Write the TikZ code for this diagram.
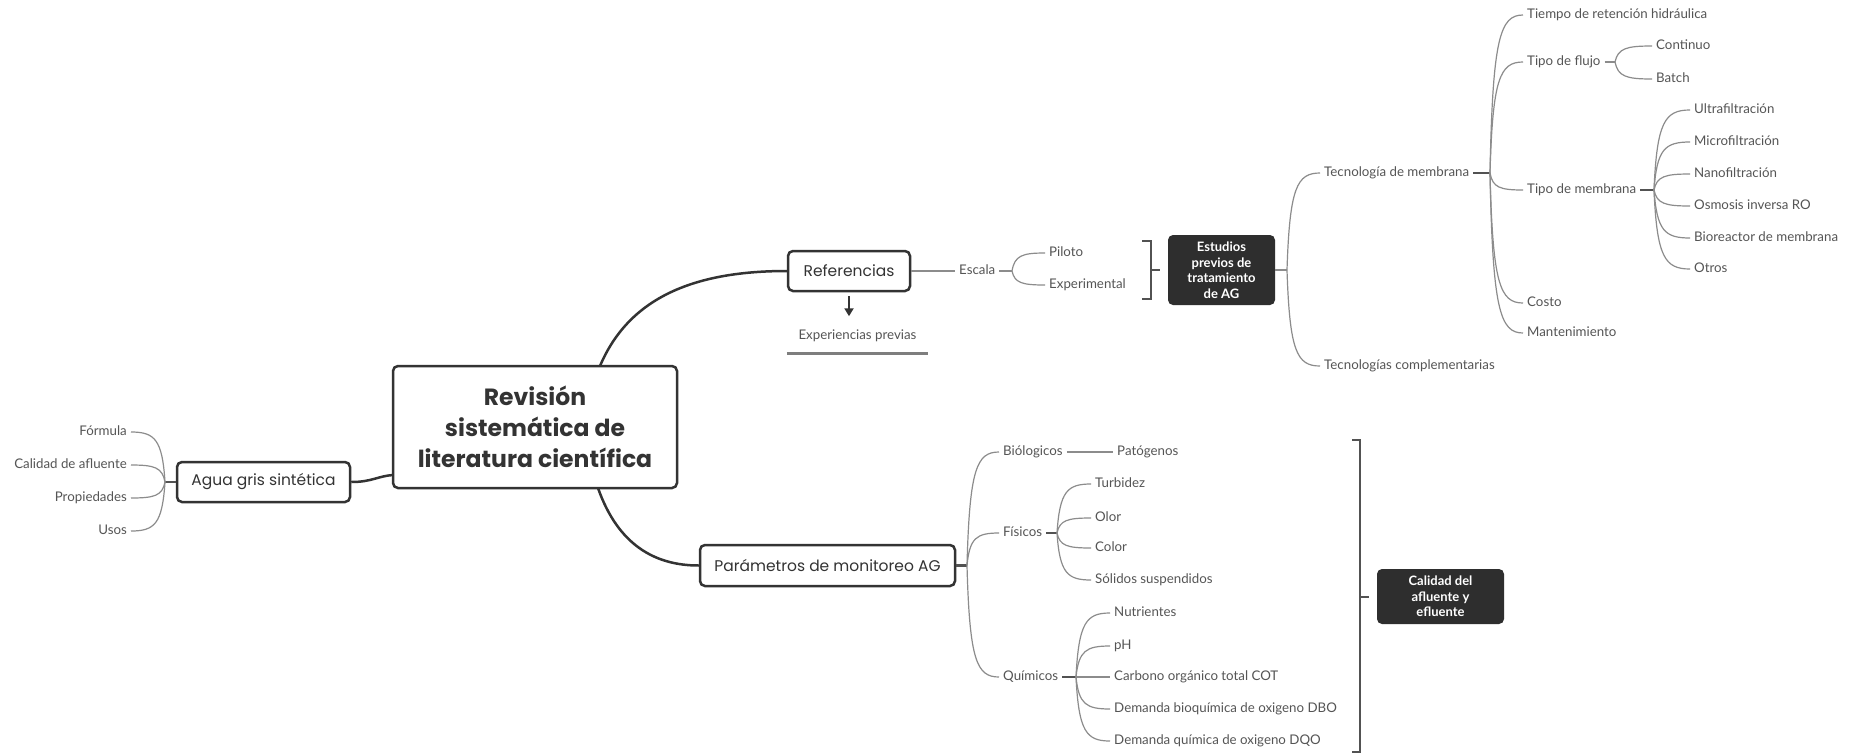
\documentclass[tikz,border=0pt]{standalone}
\usepackage{fontspec}
\setmainfont{Lato}
\newfontfamily\popfont{Poppins}
\usetikzlibrary{calc,arrows.meta}
\definecolor{dk}{HTML}{333333}
\definecolor{ln}{HTML}{8C8C8C}
\definecolor{tx}{HTML}{555555}
\definecolor{boxfill}{HTML}{2E2E2E}
\newcommand{\labfont}{\fontsize{13.3}{16}\selectfont}
\newcommand{\brc}[2]{\draw[thinln] let \p1=(#1), \p2=(#2) in (\p1) .. controls ({\x1+0.08*(\x2-\x1)},{\y1+0.85*(\y2-\y1)}) and ({\x1+0.3*(\x2-\x1)},{\y2}) .. (\p2);}
\begin{document}
\begin{tikzpicture}[x=1pt,y=-1pt,
  lab/.style={anchor=west, inner xsep=4pt, inner ysep=1pt, text=tx, font=\labfont, text height=9.6pt, text depth=2.8pt},
  labr/.style={lab, anchor=east},
  topic/.style={draw=dk, line width=2.5pt, rounded corners=5pt, fill=white, text=dk, inner sep=0pt},
  darkbox/.style={fill=boxfill, rounded corners=5pt, text=white, align=center, inner sep=0pt, font=\bfseries\fontsize{13}{15.5}\selectfont},
  conn/.style={draw=dk, line width=2.5pt},
  thinln/.style={draw=ln, line width=1.2pt},
  stubk/.style={draw=dk!85, line width=2.5pt},
  brk/.style={draw=dk!85, line width=2pt}]
\fill[white] (0,0) rectangle (1856,753);
\useasboundingbox (0,0) rectangle (1856,753);

% main topics
\node[topic, minimum width=284pt, minimum height=122pt, align=center,
  font=\popfont\bfseries\fontsize{23.5}{31}\selectfont] (central) at (535,427)
  {Revisión\\sistemática de\\literatura científica};
\node[topic, minimum width=173pt, minimum height=40pt, font=\popfont\fontsize{15.5}{18}\selectfont] (agua) at (263.5,482) {Agua gris sintética};
\node[topic, minimum width=122pt, minimum height=40pt, font=\popfont\fontsize{15.5}{18}\selectfont] (ref) at (849,271) {Referencias};
\node[topic, minimum width=255pt, minimum height=41pt, font=\popfont\fontsize{15.5}{18}\selectfont] (par) at (827.5,565.5) {Parámetros de monitoreo AG};

\coordinate (cL) at (393,475);
\coordinate (cT) at (600,366);
\coordinate (cB) at (598,488);
\draw[conn] (agua.east) .. controls (372,482) and (378,476) .. (cL);
\draw[conn] (cT) .. controls (628,300) and (690,271) .. (ref.west);
\draw[conn] (cB) .. controls (618,545) and (655,565.5) .. (par.west);

% Agua gris
\coordinate (hA) at (165,482);
\draw[stubk] (agua.west) -- (hA);
\node[labr] (fo) at (131,432) {Fórmula};
\node[labr] (ca) at (131,465) {Calidad de afluente};
\node[labr] (pr) at (131,498) {Propiedades};
\node[labr] (us) at (131,531) {Usos};
\brc{hA}{fo.east}
\brc{hA}{ca.east}
\brc{hA}{pr.east}
\brc{hA}{us.east}

% Referencias
\node[lab, inner ysep=3pt, minimum width=141pt, align=center, anchor=center] (exp) at (857.5,336) {Experiencias previas};
\draw[draw=dk, line width=2pt, -{Triangle[width=9pt,length=8pt]}] ([yshift=-4pt]ref.south) -- ([yshift=-24pt]ref.south);
\draw[draw=ln!90!black, line width=2.5pt] ([yshift=-8pt]exp.south west) -- ([yshift=-8pt]exp.south east);
\node[lab] (esc) at (955,271) {Escala};
\draw[thinln] (ref.east) -- (esc.west);
\coordinate (hEsc) at (1012,271);
\draw[thinln] (esc.east) -- (hEsc);
\node[lab] (pil) at (1045,253) {Piloto};
\node[lab] (expm) at (1045,285) {Experimental};
\brc{hEsc}{pil.west}
\brc{hEsc}{expm.west}

% Estudios
\draw[brk] (1142,241) -- (1151,241) -- (1151,299) -- (1142,299);
\draw[brk] (1151,270) -- (1160,270);
\node[darkbox, minimum width=107pt, minimum height=70pt] (est) at (1221.5,270) {Estudios\\previos de\\tratamiento\\de AG};
\coordinate (hE) at (1287,270);
\draw[thinln] (est.east) -- (hE);
\node[lab] (tm) at (1320,173) {Tecnología de membrana};
\node[lab] (tc) at (1320,366) {Tecnologías complementarias};
\brc{hE}{tm.west}
\brc{hE}{tc.west}

\coordinate (hTM) at (1490,173);
\draw[stubk] (tm.east) -- (hTM);
\node[lab] (ti) at (1523,15) {Tiempo de retención hidráulica};
\node[lab] (tf) at (1523,62) {Tipo de flujo};
\node[lab] (tme) at (1523,190) {Tipo de membrana};
\node[lab] (co) at (1523,303) {Costo};
\node[lab] (ma) at (1523,333) {Mantenimiento};
\brc{hTM}{ti.west}
\brc{hTM}{tf.west}
\brc{hTM}{tme.west}
\brc{hTM}{co.west}
\brc{hTM}{ma.west}

\coordinate (hTF) at (1615,62);
\draw[thinln] (tf.east) -- (hTF);
\node[lab] (cn) at (1652,46) {Continuo};
\node[lab] (ba) at (1652,79) {Batch};
\brc{hTF}{cn.west}
\brc{hTF}{ba.west}

\coordinate (hTMe) at (1654,190);
\draw[stubk] (tme.east) -- (hTMe);
\node[lab] (uf) at (1690,110) {Ultrafiltración};
\node[lab] (mf) at (1690,142) {Microfiltración};
\node[lab] (nf) at (1690,174) {Nanofiltración};
\node[lab] (ro) at (1690,206) {Osmosis inversa RO};
\node[lab] (br) at (1690,238) {Bioreactor de membrana};
\node[lab] (ot) at (1690,269) {Otros};
\brc{hTMe}{uf.west}
\brc{hTMe}{mf.west}
\brc{hTMe}{nf.west}
\brc{hTMe}{ro.west}
\brc{hTMe}{br.west}
\brc{hTMe}{ot.west}

% Parametros
\coordinate (hP) at (967,565.5);
\draw[stubk] (par.east) -- (hP);
\node[lab] (bi) at (999,452) {Biólogicos};
\node[lab] (fi) at (999,533) {Físicos};
\node[lab] (qu) at (999,677) {Químicos};
\brc{hP}{bi.west}
\brc{hP}{fi.west}
\brc{hP}{qu.west}
\node[lab] (pa) at (1113,452) {Patógenos};
\draw[thinln] (bi.east) -- (pa.west);

\coordinate (hF) at (1057,533);
\draw[stubk] (fi.east) -- (hF);
\node[lab] (tu) at (1091,484) {Turbidez};
\node[lab] (ol) at (1091,518) {Olor};
\node[lab] (cl) at (1091,548) {Color};
\node[lab] (so) at (1091,580) {Sólidos suspendidos};
\brc{hF}{tu.west}
\brc{hF}{ol.west}
\brc{hF}{cl.west}
\brc{hF}{so.west}

\coordinate (hQ) at (1076,677);
\draw[stubk] (qu.east) -- (hQ);
\node[lab] (nu) at (1110,613) {Nutrientes};
\node[lab] (ph) at (1110,646) {pH};
\node[lab] (ct) at (1110,677) {Carbono orgánico total COT};
\node[lab] (db) at (1110,709) {Demanda bioquímica de oxigeno DBO};
\node[lab] (dq) at (1110,741) {Demanda química de oxigeno DQO};
\brc{hQ}{nu.west}
\brc{hQ}{ph.west}
\brc{hQ}{ct.west}
\brc{hQ}{db.west}
\brc{hQ}{dq.west}

% Calidad
\draw[brk] (1352,440) -- (1360,440) -- (1360,752) -- (1352,752);
\draw[brk] (1360,596.5) -- (1369,596.5);
\node[darkbox, minimum width=127pt, minimum height=55pt] (cal) at (1440.5,596.5) {Calidad del\\afluente y\\efluente};
\end{tikzpicture}
\end{document}
